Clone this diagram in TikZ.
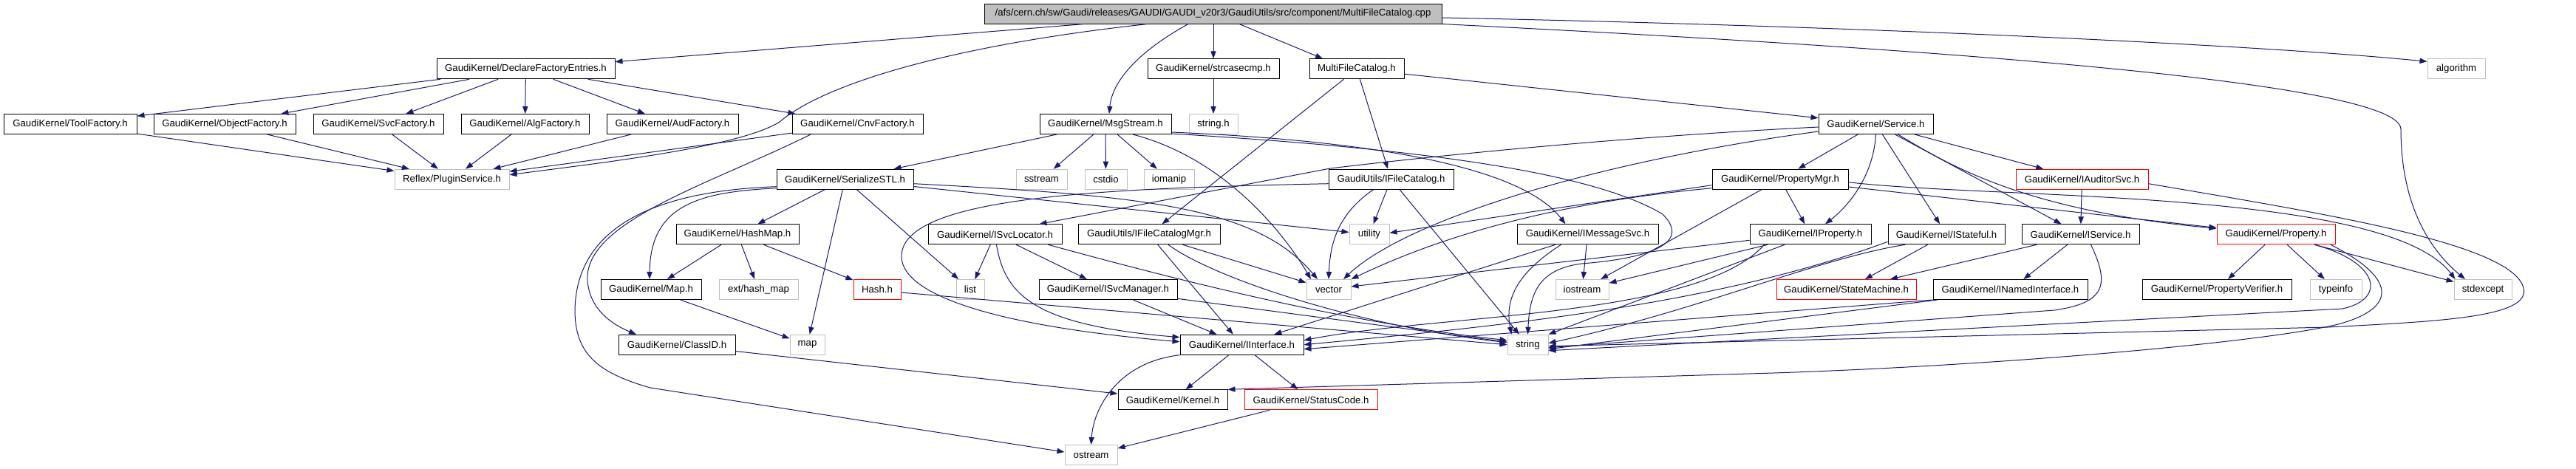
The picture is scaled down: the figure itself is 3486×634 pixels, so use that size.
\documentclass[tikz,border=0pt]{standalone}
\usepackage{fontspec}
\setmainfont{Liberation Sans}
\usetikzlibrary{arrows.meta}
\definecolor{edgeblue}{HTML}{191970}
\definecolor{boxgray}{HTML}{BFBFBF}
\tikzset{
  bx/.style={draw=black, fill=white, rectangle, line width=0.5pt, inner sep=0pt,
     minimum height=13.5pt, minimum width=#1*0.5pt, font=\fontsize{6.6}{8}\selectfont},
  gbx/.style={bx=#1, draw=boxgray},
  rbx/.style={bx=#1, draw=red},
  rootbx/.style={bx=#1, fill=boxgray},
  edg/.style={draw=edgeblue, line width=0.5pt, -{Triangle[length=5pt,width=3.6pt]}}
}
\begin{document}
\begin{tikzpicture}[x=0.5pt,y=-0.5pt]
\useasboundingbox (0,0) rectangle (3486,634);
% row 1
\node[rootbx=619] (root) at (1641.5,18.5) {/afs/cern.ch/sw/Gaudi/releases/GAUDI/GAUDI\_v20r3/GaudiUtils/src/component/MultiFileCatalog.cpp};
% row 2
\node[bx=241] (dfe) at (711.5,93.3) {GaudiKernel/DeclareFactoryEntries.h};
\node[bx=178] (strc) at (1642,93.3) {GaudiKernel/strcasecmp.h};
\node[bx=128] (mfch) at (1836,93.3) {MultiFileCatalog.h};
\node[gbx=78] (algo) at (3324,93.3) {algorithm};
% row 3
\node[bx=180] (tool) at (95,168) {GaudiKernel/ToolFactory.h};
\node[bx=192] (obj) at (304,168) {GaudiKernel/ObjectFactory.h};
\node[bx=176] (svcf) at (512,168) {GaudiKernel/SvcFactory.h};
\node[bx=173] (algf) at (710.5,168) {GaudiKernel/AlgFactory.h};
\node[bx=178] (audf) at (910,168) {GaudiKernel/AudFactory.h};
\node[bx=177] (cnvf) at (1160.5,168) {GaudiKernel/CnvFactory.h};
\node[bx=178] (msgs) at (1496,168) {GaudiKernel/MsgStream.h};
\node[gbx=66] (strh) at (1642,168) {string.h};
\node[bx=155] (serv) at (2538.5,168) {GaudiKernel/Service.h};
% row 4
\node[gbx=155] (plug) at (611.5,242.7) {Reflex/PluginService.h};
\node[bx=185] (ser) at (1143.5,242.7) {GaudiKernel/SerializeSTL.h};
\node[gbx=69] (sstr) at (1409.5,242.7) {sstream};
\node[gbx=57] (cstd) at (1496.5,242.7) {cstdio};
\node[gbx=68] (ioma) at (1582,242.7) {iomanip};
\node[bx=169] (ifc) at (1882.5,242.7) {GaudiUtils/IFileCatalog.h};
\node[bx=184] (pmgr) at (2409,242.7) {GaudiKernel/PropertyMgr.h};
\node[rbx=179] (iaud) at (2817.5,242.7) {GaudiKernel/IAuditorSvc.h};
% row 5
\node[bx=166] (hmap) at (998,317.3) {GaudiKernel/HashMap.h};
\node[bx=181] (isl) at (1346.5,317.3) {GaudiKernel/ISvcLocator.h};
\node[bx=192] (ifcm) at (1555,317.3) {GaudiUtils/IFileCatalogMgr.h};
\node[gbx=54] (util) at (1853,317.3) {utility};
\node[bx=191] (imsg) at (2148.5,317.3) {GaudiKernel/IMessageSvc.h};
\node[bx=164] (iprop) at (2450,317.3) {GaudiKernel/IProperty.h};
\node[bx=158] (istf) at (2634,317.3) {GaudiKernel/IStateful.h};
\node[bx=159] (isvc) at (2815.5,317.3) {GaudiKernel/IService.h};
\node[rbx=160] (prop) at (3080,317.3) {GaudiKernel/Property.h};
% row 6
\node[bx=136] (mapH) at (881,392) {GaudiKernel/Map.h};
\node[gbx=107] (ehm) at (1026.5,392) {ext/hash\_map};
\node[rbx=64] (hash) at (1187,392) {Hash.h};
\node[gbx=38] (list) at (1313,392) {list};
\node[bx=187] (ism) at (1499.5,392) {GaudiKernel/ISvcManager.h};
\node[gbx=60] (vec) at (1798,392) {vector};
\node[gbx=72] (iost) at (2141,392) {iostream};
\node[rbx=189] (stm) at (2498.5,392) {GaudiKernel/StateMachine.h};
\node[bx=209] (inam) at (2720.5,392) {GaudiKernel/INamedInterface.h};
\node[bx=202] (pver) at (3000,392) {GaudiKernel/PropertyVerifier.h};
\node[gbx=70] (tinf) at (3161,392) {typeinfo};
\node[gbx=78] (stde) at (3360,392) {stdexcept};
% row 7
\node[bx=158] (clid) at (916,466.7) {GaudiKernel/ClassID.h};
\node[gbx=47] (map) at (1092.5,466.7) {map};
\node[bx=167] (iint) at (1680.5,466.7) {GaudiKernel/IInterface.h};
\node[gbx=55] (str) at (2067.5,466.7) {string};
% row 8
\node[bx=148] (kern) at (1587,541.3) {GaudiKernel/Kernel.h};
\node[rbx=180] (stc) at (1774,541.3) {GaudiKernel/StatusCode.h};
% row 9
\node[gbx=71] (ostr) at (1476.5,616) {ostream};

% ---- edges from root
\draw[edg] (root) -- (dfe);
\draw[edg] ([xshift=-44.25pt]root.south) .. controls (1300,60) and (1120,110) .. (1055,165) .. controls (1000,200) and (800,222) .. ([yshift=3pt]plug.east);
\draw[edg] ([xshift=-16.75pt]root.south) .. controls (1540,70) and (1505,110) .. ([xshift=2.5pt]msgs.north);
\draw[edg] (root.south -| strc.north) -- (strc.north);
\draw[edg] ([xshift=17.75pt]root.south) -- ([xshift=-23pt]mfch.north);
\draw[edg] ([yshift=-2.75pt]root.east) .. controls (2500,35) and (3050,60) .. ([yshift=5pt]algo.west);
\draw[edg] (root.south east) .. controls (2600,65) and (3249,110) .. (3249,175) .. controls (3249,280) and (3290,340) .. ([xshift=-12pt]stde.north);

% ---- factories
\foreach \t in {tool,obj,svcf,algf,audf,cnvf} \draw[edg] (dfe) -- (\t);
\foreach \t in {tool,obj,svcf,algf,audf,cnvf} \draw[edg] (\t) -- (plug);
\draw[edg] ([xshift=-31.75pt]cnvf.south) .. controls (960,250) and (790,300) .. (795,380) .. controls (798,420) and (830,440) .. ([xshift=-27.5pt]clid.north);

% ---- MultiFileCatalog.h, strcasecmp
\draw[edg] (mfch) -- (serv);
\draw[edg] (mfch) -- (ifc);
\draw[edg] (mfch) -- (ifcm);
\draw[edg] (strc) -- (strh);

% ---- MsgStream
\draw[edg] (msgs) -- (ser);
\draw[edg] (msgs) -- (sstr);
\draw[edg] (msgs) -- (cstd);
\draw[edg] (msgs) -- (ioma);
\draw[edg] ([xshift=18.5pt]msgs.south) .. controls (1660,215) and (1740,320) .. ([xshift=-12pt]vec.north);
\draw[edg] ([yshift=-5.5pt]msgs.east) .. controls (1800,188) and (2050,215) .. ([xshift=-15pt]imsg.north);
\draw[edg] ([yshift=-6.5pt]msgs.east) .. controls (1900,200) and (2150,230) .. (2250,290) .. controls (2290,330) and (2230,350) .. (2140,357) .. controls (2080,365) and (2070,400) .. (str.north);

% ---- SerializeSTL
\draw[edg] (ser) -- (hmap);
\draw[edg] (ser) -- (map);
\draw[edg] (ser) -- (list);
\draw[edg] (ser) -- (util);
\draw[edg] ([yshift=-3pt]ser.east) .. controls (1550,265) and (1700,280) .. ([xshift=-7.5pt]vec.north);
\draw[edg] ([yshift=-6pt]ser.west) .. controls (950,260) and (880,275) .. ([xshift=-1pt]mapH.north);
\draw[edg] ([yshift=-5pt]ser.west) .. controls (900,258) and (780,300) .. (778,420) .. controls (778,480) and (810,505) .. (880,525) -- ([yshift=2pt]ostr.west);

% ---- HashMap, Map, ClassID
\draw[edg] (hmap) -- (mapH);
\draw[edg] (hmap) -- (ehm);
\draw[edg] (hmap) -- (hash);
\draw[edg] (mapH) -- (map);
\draw[edg] (clid) -- (kern);
\draw[edg] ([yshift=-2pt]hash.east) -- (str.west);

% ---- IFileCatalog
\draw[edg] (ifc) -- (util);
\draw[edg] ([xshift=-12pt]ifc.south) .. controls (1810,290) and (1800,330) .. (vec.north);
\draw[edg] (ifc) -- (str);
\draw[edg] ([yshift=-3pt]ifc.west) .. controls (1500,255) and (1225,265) .. (1220,345) .. controls (1217,395) and (1330,440) .. ([yshift=2pt]iint.west);

% ---- PropertyMgr
\draw[edg] (pmgr) -- (iprop);
\draw[edg] (pmgr) -- (prop);
\draw[edg] ([yshift=-4pt]pmgr.west) -- ([yshift=1pt]util.east);
\draw[edg] ([yshift=-6pt]pmgr.west) .. controls (2100,275) and (1950,320) .. (vec.north east);
\draw[edg] (pmgr) -- (iost);
\draw[edg] ([yshift=-2pt]pmgr.east) .. controls (2700,270) and (3230,255) .. ([xshift=1pt]stde.north west);

% ---- IAuditorSvc
\draw[edg] (iaud) -- (isvc);
\draw[edg] ([yshift=-3pt]iaud.east) .. controls (3150,290) and (3400,330) .. (3415,390) .. controls (3425,430) and (3300,435) .. (3150,443) -- ([yshift=-1pt]str.east);

% ---- ISvcLocator, IFileCatalogMgr, ISvcManager
\draw[edg] (isl) -- (list);
\draw[edg] (isl) -- (ism);
\draw[edg] ([xshift=1pt]isl.south) .. controls (1360,400) and (1400,440) .. ([yshift=5pt]iint.west);
\draw[edg] ([xshift=36pt]isl.south) .. controls (1650,395) and (1850,440) .. ([yshift=3pt]str.west);
\draw[edg] (ifcm) -- (iint);
\draw[edg] (ifcm) -- (vec);
\draw[edg] ([xshift=13pt]ifcm.south) .. controls (1640,375) and (1830,440) .. ([yshift=1.5pt]str.west);
\draw[edg] (ism) -- (iint);
\draw[edg] (ism) -- (str);

% ---- IMessageSvc
\draw[edg] (imsg) -- (iint);
\draw[edg] (imsg) -- (iost);
\draw[edg] ([xshift=-18pt]imsg.south) .. controls (2060,365) and (2035,400) .. ([xshift=-11pt]str.north);

% ---- IProperty
\draw[edg] ([xshift=10pt]iprop.south west) .. controls (2300,430) and (1950,425) .. ([yshift=3pt]iint.east);
\draw[edg] ([xshift=-17.5pt]iprop.south) -- (str.north east);
\draw[edg] ([yshift=-4pt]iprop.west) -- ([yshift=2pt]vec.east);
\draw[edg] (iprop) -- (iost);

% ---- IStateful
\draw[edg] (istf) -- (stm);
\draw[edg] ([yshift=-5pt]istf.west) .. controls (2330,410) and (2050,440) .. (iint.east);
\draw[edg] ([xshift=-28pt]istf.south) .. controls (2460,350) and (2300,420) .. ([yshift=1pt]str.east);

% ---- IService, INamedInterface
\draw[edg] (isvc) -- (inam);
\draw[edg] (isvc) -- (stm);
\draw[edg] ([xshift=7pt]isvc.south) .. controls (2855,385) and (2850,410) .. (2780,420) -- ([yshift=-2pt]str.east);
\draw[edg] (inam.south west) -- ([yshift=-3pt]iint.east);
\draw[edg] ([xshift=3pt]inam.south west) -- ([yshift=-3pt]str.east);

% ---- Property
\draw[edg] (prop) -- (pver);
\draw[edg] (prop) -- (tinf);
\draw[edg] (prop) -- (stde);
\draw[edg] ([xshift=26pt]prop.south) .. controls (3220,355) and (3230,405) .. (3170,418) -- ([yshift=-4pt]str.east);
\draw[edg] ([xshift=37pt]prop.south) .. controls (3250,380) and (3240,420) .. (3160,440) .. controls (3050,465) and (2700,495) .. (2400,505) -- ([yshift=7pt]kern.east);

% ---- IInterface, StatusCode
\draw[edg] (iint) -- (kern);
\draw[edg] (iint) -- (stc);
\draw[edg] (iint.south west) .. controls (1515,490) and (1480,550) .. (ostr.north);
\draw[edg] (stc) -- (ostr);

% ---- Service
\draw[edg] (serv) -- (pmgr);
\draw[edg] (serv.south) .. controls (2535,240) and (2500,280) .. ([xshift=10pt]iprop.north);
\draw[edg] (serv) -- (istf);
\draw[edg] (serv) -- (isvc);
\draw[edg] ([xshift=15pt]serv.south) .. controls (2640,225) and (2740,285) .. ([yshift=4pt]prop.west);
\draw[edg] (serv) -- (iaud);
\draw[edg] ([yshift=-2pt]serv.west) .. controls (2200,185) and (1950,210) .. (1800,228) -- ([xshift=30pt]isl.north);
\draw[edg] ([yshift=-5pt]serv.west) .. controls (2150,220) and (1900,300) .. ([xshift=10pt]vec.north);
\end{tikzpicture}
\end{document}
